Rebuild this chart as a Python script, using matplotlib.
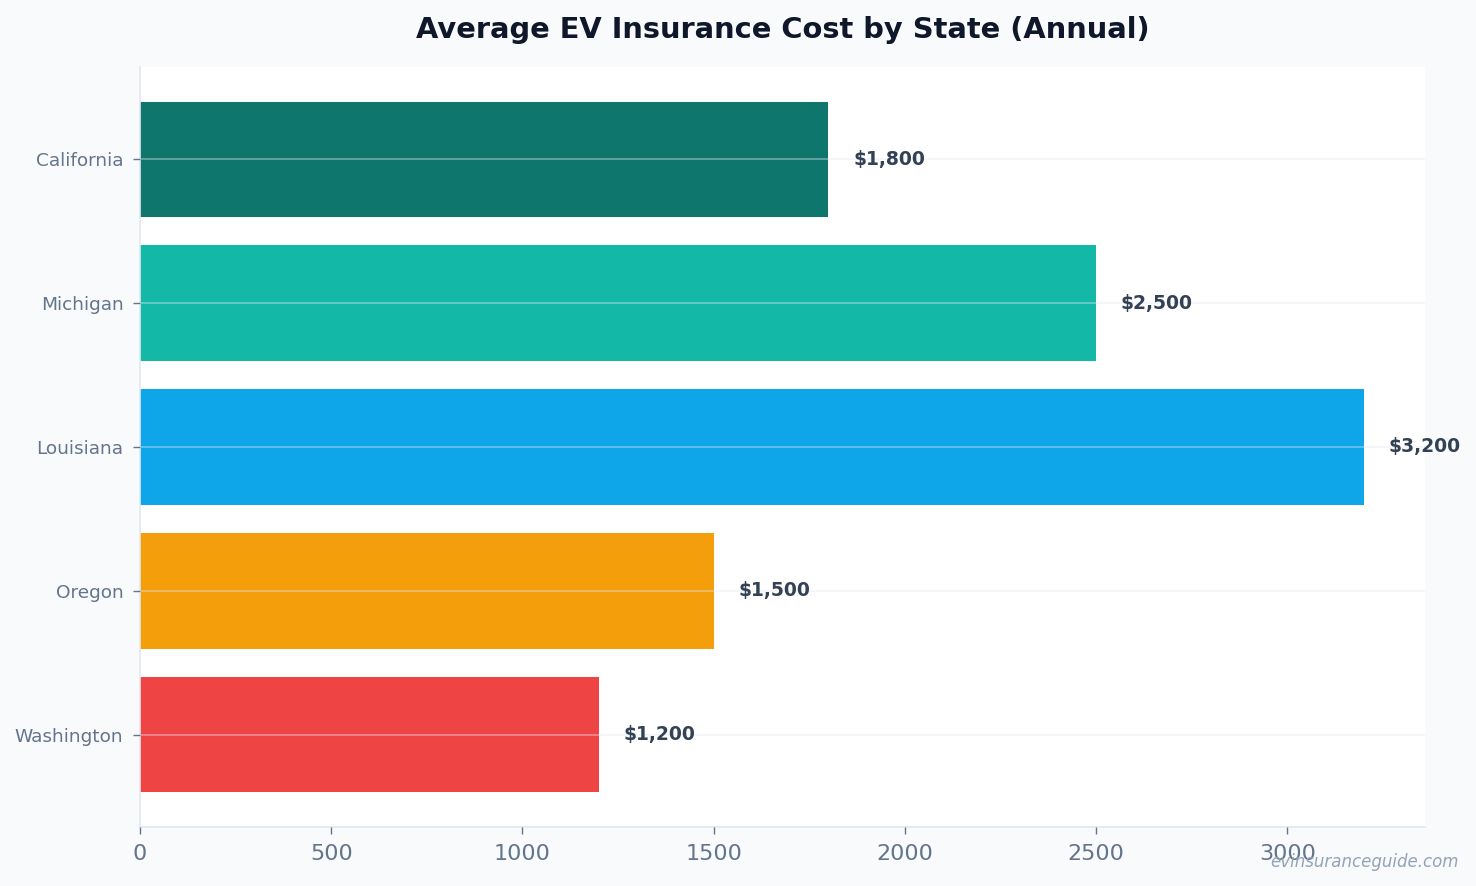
import matplotlib.pyplot as plt

states = ["California", "Michigan", "Louisiana", "Oregon", "Washington"]
costs = [1800, 2500, 3200, 1500, 1200]
colors = ["#0f766e", "#14b8a6", "#0ea5e9", "#f59e0b", "#ef4444"]

fig = plt.figure(figsize=(14.76, 8.86), dpi=100, facecolor="#f8fafc")
ax = fig.add_axes([0.0949, 0.0666, 0.8705, 0.8578])
ax.set_facecolor("white")

y = list(range(len(states)))
ax.barh(y, costs, height=0.8, color=colors, zorder=2)
ax.set_yticks(y)
ax.set_yticklabels(states)
ax.invert_yaxis()
ax.set_xlim(0, max(costs) * 1.05)

# etiquetas de valor
for yi, v in zip(y, costs):
    ax.text(v + 65, yi, f"${v:,}", va="center", ha="left",
            fontsize=13.5, fontweight="bold", color="#334155", zorder=4)

ax.grid(axis="y", color="#e2e8f0", alpha=0.45, lw=1.2, zorder=3)
ax.grid(axis="x", visible=False)
ax.set_axisbelow(False)

for s in ["top", "right"]:
    ax.spines[s].set_visible(False)
for s in ["left", "bottom"]:
    ax.spines[s].set_color("#e2e8f0")
    ax.spines[s].set_linewidth(1.2)

ax.tick_params(axis="y", labelsize=13.3, colors="#64748b", length=5, width=1, pad=7)
ax.tick_params(axis="x", labelsize=16, colors="#64748b", length=5, width=1, pad=7)

ax.set_title("Average EV Insurance Cost by State (Annual)", fontsize=20.8,
             fontweight="bold", color="#0f172a", pad=21)

fig.text(0.9885, 0.027, "evinsuranceguide.com", ha="right", va="center",
         fontsize=12, style="italic", color="#94a3b8")

fig.savefig("out.png", dpi=100, facecolor=fig.get_facecolor())
